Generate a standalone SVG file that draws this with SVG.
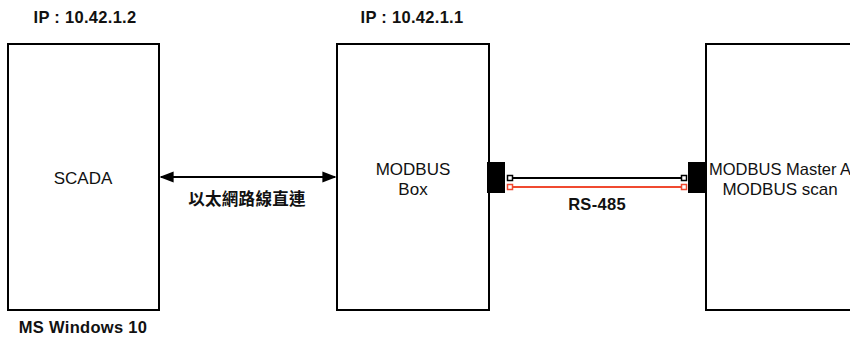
<svg xmlns="http://www.w3.org/2000/svg" width="850" height="338" viewBox="0 0 850 338">
<style>
.box{fill:#fff;stroke:#000;stroke-width:2}
.t{font-family:"Liberation Sans",Arial,"Noto Sans CJK TC",sans-serif;font-size:17px;fill:#111;text-anchor:middle}
.b{font-weight:bold;font-size:16.5px;letter-spacing:0.3px}
.blk{fill:#000}
</style>
<defs>
<marker id="ah" viewBox="0 0 10 10" refX="9" refY="5" markerWidth="7" markerHeight="7" orient="auto-start-reverse"><path d="M0,1 L10,5 L0,9 Z" fill="#000"/></marker>
</defs>
<rect width="850" height="338" fill="#fff"/>
<g id="scada">
<rect class="box" x="8" y="44" width="151" height="266"/>
<text class="t" x="83" y="184">SCADA</text>
<text class="t b" x="85" y="23">IP : 10.42.1.2</text>
<text class="t b" x="83" y="333">MS Windows 10</text>
</g>
<g id="modbusbox">
<rect class="box" x="337" y="44" width="152" height="266"/>
<text class="t" x="413" y="175">MODBUS</text>
<text class="t" x="413" y="195">Box</text>
<text class="t b" x="412" y="23">IP : 10.42.1.1</text>
<rect class="blk" x="487" y="162" width="18" height="31"/>
</g>
<g id="master">
<rect class="box" x="706" y="44" width="160" height="266"/>
<rect class="blk" x="688" y="162" width="18" height="31"/>
<text class="t" x="709" y="175" style="text-anchor:start;font-size:16.5px">MODBUS Master A</text>
<text class="t" x="780" y="195">MODBUS scan</text>
</g>
<g id="connectors">
<line x1="161" y1="177" x2="335" y2="177" stroke="#000" stroke-width="2" marker-start="url(#ah)" marker-end="url(#ah)"/>
<text class="t b" x="247" y="205">以太網路線直連</text>
<line x1="513" y1="178" x2="681" y2="178" stroke="#000" stroke-width="2"/>
<line x1="513" y1="187" x2="681" y2="187" stroke="#f04a30" stroke-width="2"/>
<rect x="507.5" y="175.5" width="5" height="5" fill="#fff" stroke="#000" stroke-width="1.5"/>
<rect x="681.5" y="175.5" width="5" height="5" fill="#fff" stroke="#000" stroke-width="1.5"/>
<rect x="507.5" y="184.5" width="5" height="5" fill="#fff" stroke="#f04a30" stroke-width="1.5"/>
<rect x="681.5" y="184.5" width="5" height="5" fill="#fff" stroke="#f04a30" stroke-width="1.5"/>
<text class="t b" x="597" y="210">RS-485</text>
</g>
</svg>
